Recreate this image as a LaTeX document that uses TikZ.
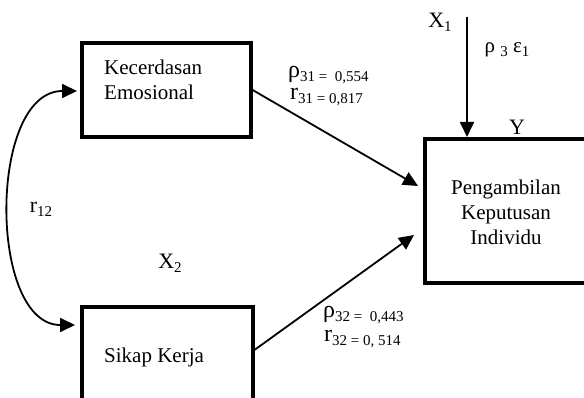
\documentclass[tikz,border=0pt]{standalone}
\usepackage{fontspec}
\setmainfont{Liberation Serif}
\usetikzlibrary{arrows.meta}
\newcommand{\fsz}[1]{\fontsize{#1}{#1}\selectfont}
\newcommand{\lsub}[1]{\raisebox{-0.4ex}{\fsz{15}#1}}
\begin{document}
\begin{tikzpicture}[x=1pt,y=-1pt,
  box/.style={draw, line width=3.3pt, inner sep=0pt},
  lbl/.style={inner sep=0pt, font=\fsz{21}},
  big/.style={inner sep=0pt, font=\fsz{22}},
  arr/.style={line width=1.8pt, -{Triangle[length=15pt,width=14pt]}}]
\useasboundingbox (0,0) rectangle (584,398);
\clip (0,0) rectangle (584,398);
% boxes
\node[box, minimum width=169pt, minimum height=94pt] (b1) at (166.5,90) {};
\node[box, minimum width=171pt, minimum height=120pt] (b2) at (167.5,367) {};
\node[box, minimum width=180pt, minimum height=144pt] (b3) at (515,211) {};
% box texts
\node[lbl, anchor=west] (t1) at (104,67) {Kecerdasan};
\node[lbl, anchor=west] (t2) at (104,92) {Emosional};
\node[lbl, anchor=west] (t3) at (104,357) {Sikap Kerja};
\node[inner sep=0pt, align=center, font=\fontsize{21}{25}\selectfont] (t4) at (506,212) {Pengambilan\\Keputusan\\Individu};
% connector end points
\coordinate (e1) at (418,186);
\coordinate (s2) at (253,351);
\coordinate (e2) at (414,235);
\coordinate (xtop) at (467,17);
\coordinate (yin) at (467,137);
\coordinate (c1) at (77,91);
\coordinate (c2) at (75,325);
% connectors
\draw[arr] (b1.east) -- (e1);
\draw[arr] (s2) -- (e2);
\draw[arr] (xtop) -- (yin);
\draw[line width=1.8pt, {Triangle[length=15pt,width=14pt]}-{Triangle[length=15pt,width=14pt]}] (c1) .. controls (-12,91) and (-12,325) .. (c2);
% labels
\node[big] (lx1) at (440,22) {X\lsub{1}};
\node[lbl] (lrho3) at (507,50) {ρ \lsub{3} ε\lsub{1}};
\node[big] (ly) at (517,127) {Y};
\node[big] (lx2) at (170,263) {X\lsub{2}};
\node[big] (lr12) at (41,209) {r\lsub{12}};
\node[big, anchor=west] (lp31) at (288,75) {{\fsz{24}ρ}\lsub{31 = \ 0,554}};
\node[big, anchor=west] (lr31) at (290,97) {{\fsz{24}r}\lsub{31 = 0,817}};
\node[big, anchor=west] (lp32) at (323,315) {{\fsz{24}ρ}\lsub{32 = \ 0,443}};
\node[big, anchor=west] (lr32) at (324,339) {{\fsz{24}r}\lsub{32 = 0, 514}};
\end{tikzpicture}
\end{document}
